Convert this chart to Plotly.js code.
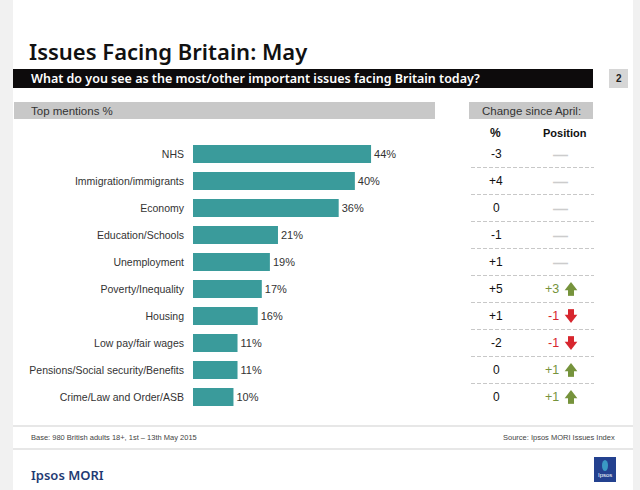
<!DOCTYPE html>
<html>
<head>
<meta charset="utf-8">
<script src="https://cdn.plot.ly/plotly-3.0.1.min.js"></script>
<style>
html,body{margin:0;padding:0;background:#f1f1f1;}
#chart{width:640px;height:490px;}
</style>
</head>
<body>
<div id="chart"></div>
<script>
// ---- data ----
const categories = ['NHS','Immigration/immigrants','Economy','Education/Schools','Unemployment','Poverty/Inequality','Housing','Low pay/fair wages','Pensions/Social security/Benefits','Crime/Law and Order/ASB'];
const values = [44, 40, 36, 21, 19, 17, 16, 11, 11, 10];
const changePct = ['-3', '+4', '0', '-1', '+1', '+5', '+1', '-2', '0', '0'];
const positionChange = [0, 0, 0, 0, 0, 3, -1, -1, 1, 1];

// ---- helpers (pixel -> paper) ----
const W = 640, H = 490;
const px = x => x / W;
const py = y => 1 - y / H;
const ROW = 27; // pixel height of one category row

const teal = '#3a9b9b';
const green = '#76933c';
const red = '#d7262e';
const narrow = '"Liberation Sans Narrow", "Liberation Sans", Arial, sans-serif';
const sans = '"Liberation Sans", Arial, sans-serif';

const trace = {
  type: 'bar',
  orientation: 'h',
  y: categories,
  x: values,
  marker: {color: teal},
  text: values.map(v => v + '%'),
  textposition: 'outside',
  textfont: {family: sans, size: 11, color: '#333'},
  cliponaxis: false,
  hoverinfo: 'skip'
};

// arrow glyphs built from markers (triangle head + square stem), placed by row index
const upIdx = [], downIdx = [];
positionChange.forEach((p, i) => { if (p > 0) upIdx.push(i); else if (p < 0) downIdx.push(i); });
const ARROW_X = 571;
const headOff = 1.4 / ROW, stemOff = 3.85 / ROW;
const arrowTraces = [
  {type:'scatter', mode:'markers', xaxis:'x2', yaxis:'y2', x: upIdx.map(() => ARROW_X), y: upIdx.map(i => i - headOff),
   marker:{symbol:'triangle-up', size:11, color:green, line:{width:0}}, cliponaxis:false, hoverinfo:'skip'},
  {type:'scatter', mode:'markers', xaxis:'x2', yaxis:'y2', x: upIdx.map(() => ARROW_X), y: upIdx.map(i => i + stemOff),
   marker:{symbol:'square', size:6, color:green, line:{width:0}}, cliponaxis:false, hoverinfo:'skip'},
  {type:'scatter', mode:'markers', xaxis:'x2', yaxis:'y2', x: downIdx.map(() => ARROW_X), y: downIdx.map(i => i + headOff),
   marker:{symbol:'triangle-down', size:11, color:red, line:{width:0}}, cliponaxis:false, hoverinfo:'skip'},
  {type:'scatter', mode:'markers', xaxis:'x2', yaxis:'y2', x: downIdx.map(() => ARROW_X), y: downIdx.map(i => i - stemOff),
   marker:{symbol:'square', size:6, color:red, line:{width:0}}, cliponaxis:false, hoverinfo:'skip'}
];

const shapes = [
  // white slide
  {type:'rect', xref:'paper', yref:'paper', x0:px(13), x1:px(633), y0:0, y1:1, fillcolor:'#ffffff', line:{width:0}, layer:'below'},
  // black subtitle bar
  {type:'rect', xref:'paper', yref:'paper', x0:px(13), x1:px(593), y0:py(88), y1:py(69), fillcolor:'#0d0b0c', line:{width:0}, layer:'below'},
  // page number box
  {type:'rect', xref:'paper', yref:'paper', x0:px(609), x1:px(628), y0:py(88), y1:py(69), fillcolor:'#d6d6d6', line:{width:0}, layer:'below'},
  // grey header bars
  {type:'rect', xref:'paper', yref:'paper', x0:px(14), x1:px(435), y0:py(119), y1:py(102), fillcolor:'#c8c8c8', line:{width:0}, layer:'below'},
  {type:'rect', xref:'paper', yref:'paper', x0:px(469), x1:px(593), y0:py(119), y1:py(102), fillcolor:'#c8c8c8', line:{width:0}, layer:'below'},
  // footer lines
  {type:'line', xref:'paper', yref:'paper', x0:px(13), x1:px(633), y0:py(426), y1:py(426), line:{color:'#cfcfcf', width:1}},
  {type:'line', xref:'paper', yref:'paper', x0:px(13), x1:px(633), y0:py(449), y1:py(449), line:{color:'#cfcfcf', width:1}},
  // logo
  {type:'rect', xref:'paper', yref:'paper', x0:px(594), x1:px(616), y0:py(482), y1:py(457), fillcolor:'#23418f', line:{width:0}},
  {type:'circle', xref:'paper', yref:'paper', x0:px(602), x1:px(608), y0:py(471), y1:py(460), fillcolor:'#3a9ac4', line:{width:0}}
];

// dashed separators in change table (between rows)
for (let i = 0; i < categories.length - 1; i++) {
  shapes.push({type:'line', xref:'paper', yref:'y2', x0:px(471), x1:px(594), y0:i + 0.5, y1:i + 0.5,
    line:{color:'#c8c8c8', width:1, dash:'4px,2px'}});
}

const annotations = [
  {text:'Issues Facing Britain: May', xref:'paper', yref:'paper', x:px(27), y:py(51), xanchor:'left', yanchor:'middle', showarrow:false,
   font:{family:'"Noto Sans", sans-serif', size:22, color:'#111', weight:600}},
  {text:'What do you see as the most/other important issues facing Britain today?', xref:'paper', yref:'paper', x:px(29), y:py(78.5), xanchor:'left', yanchor:'middle', showarrow:false,
   font:{family:'"Noto Sans", sans-serif', size:12.5, color:'#ffffff', weight:600}},
  {text:'2', xref:'paper', yref:'paper', x:px(618.5), y:py(78.5), xanchor:'center', yanchor:'middle', showarrow:false,
   font:{family:sans, size:10, color:'#222', weight:'bold'}},
  {text:'Top mentions %', xref:'paper', yref:'paper', x:px(29), y:py(110.5), xanchor:'left', yanchor:'middle', showarrow:false,
   font:{family:narrow, size:11.5, color:'#333'}},
  {text:'Change since April:', xref:'paper', yref:'paper', x:px(531), y:py(110.5), xanchor:'center', yanchor:'middle', showarrow:false,
   font:{family:narrow, size:11.5, color:'#333'}},
  {text:'%', xref:'paper', yref:'paper', x:px(495), y:py(133), xanchor:'center', yanchor:'middle', showarrow:false,
   font:{family:sans, size:12, color:'#111', weight:'bold'}},
  {text:'Position', xref:'paper', yref:'paper', x:px(565), y:py(133), xanchor:'center', yanchor:'middle', showarrow:false,
   font:{family:sans, size:11, color:'#111', weight:'bold'}},
  {text:'Base: 980 British adults 18+, 1st – 13th May 2015', xref:'paper', yref:'paper', x:px(29), y:py(437.5), xanchor:'left', yanchor:'middle', showarrow:false,
   font:{family:narrow, size:7.5, color:'#444'}},
  {text:'Source: Ipsos MORI Issues Index', xref:'paper', yref:'paper', x:px(617), y:py(437.5), xanchor:'right', yanchor:'middle', showarrow:false,
   font:{family:narrow, size:7.5, color:'#444'}},
  {text:'Ipsos MORI', xref:'paper', yref:'paper', x:px(29), y:py(475), xanchor:'left', yanchor:'middle', showarrow:false,
   font:{family:'"Noto Sans", sans-serif', size:13, color:'#1f3b73', weight:600}},
  {text:'Ipsos', xref:'paper', yref:'paper', x:px(605), y:py(475), xanchor:'center', yanchor:'middle', showarrow:false,
   font:{family:narrow, size:6, color:'#ffffff'}}
];

categories.forEach((c, i) => {
  annotations.push({text: changePct[i], xref:'paper', yref:'y2', x:px(496), y:i, xanchor:'center', yanchor:'middle', showarrow:false,
    font:{family:sans, size:12, color:'#111'}});
  const p = positionChange[i];
  if (p === 0) {
    annotations.push({text:'—', xref:'paper', yref:'y2', x:px(560), y:i, xanchor:'center', yanchor:'middle', showarrow:false,
      font:{family:sans, size:15, color:'#cccccc', weight:'bold'}});
  } else {
    const col = p > 0 ? green : red;
    const label = (p > 0 ? '+' : '') + p;
    annotations.push({text: label, xref:'paper', yref:'y2', x:px(561), y:i, xanchor:'right', yanchor:'middle', showarrow:false,
      font:{family:sans, size:12.5, color: col}});
  }
});

const yDomain = [py(410.5), py(140.5)];
const layout = {
  width: W, height: H,
  margin: {l:0, r:0, t:0, b:0},
  paper_bgcolor: '#f1f1f1',
  plot_bgcolor: 'rgba(0,0,0,0)',
  showlegend: false,
  bargap: 0.33,
  xaxis: {domain:[px(193), px(435)], range:[0, 59.8], visible:false, fixedrange:true},
  yaxis: {domain:yDomain, autorange:'reversed', type:'category',
    showgrid:false, zeroline:false, showline:false, ticks:'', ticklabelstandoff: 8,
    tickfont:{family:sans, size:10.5, color:'#333'}, fixedrange:true},
  xaxis2: {domain:[0, 1], range:[0, W], visible:false, anchor:'y2', fixedrange:true},
  yaxis2: {domain:yDomain, range:[categories.length - 0.5, -0.5], visible:false, anchor:'x2', fixedrange:true},
  shapes: shapes,
  annotations: annotations
};

Plotly.newPlot('chart', [trace].concat(arrowTraces), layout, {displayModeBar:false, staticPlot:true});
</script>
</body>
</html>
